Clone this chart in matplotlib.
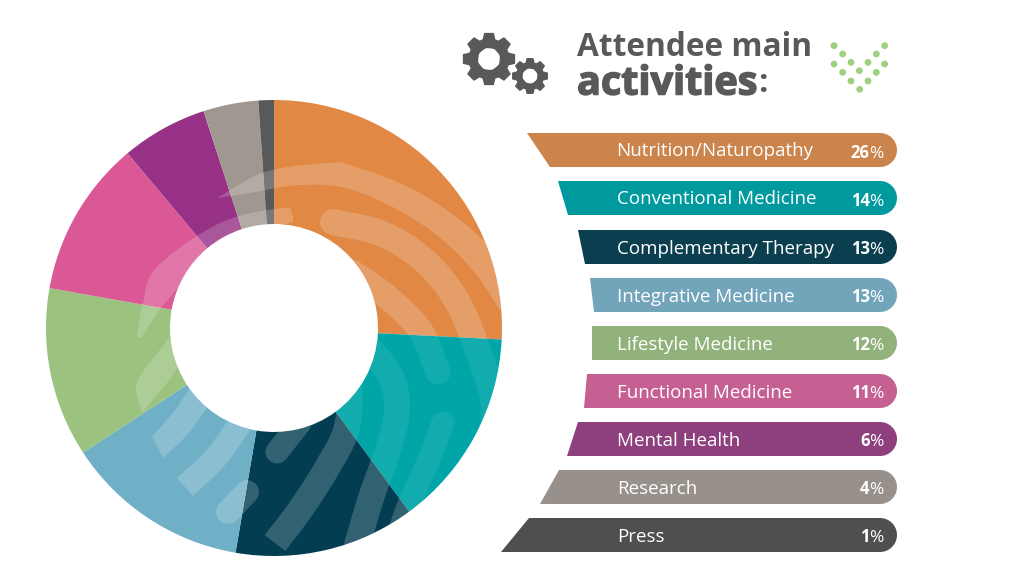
import numpy as np
import matplotlib
matplotlib.use("Agg")
import matplotlib.pyplot as plt
import matplotlib.patheffects as pe
from matplotlib.patches import Wedge, PathPatch, Polygon, Circle
from matplotlib.path import Path

# ---- data ----
categories = ["Nutrition/Naturopathy", "Conventional Medicine", "Complementary Therapy",
              "Integrative Medicine", "Lifestyle Medicine", "Functional Medicine",
              "Mental Health", "Research", "Press"]
values = [26, 14, 13, 13, 12, 11, 6, 4, 1]              # printed percentages
slice_shares = [25.8, 14.1, 12.8, 13.1, 12.0, 11.1, 6.1, 3.9, 1.1]  # as read from the ring
title_line1 = "Attendee main"
title_line2 = "activities"

# ---- style ----
wedge_colors = ["#e08844", "#00a5a8", "#033d52", "#6fb0c6", "#9bc27e",
                "#da5895", "#963185", "#a09890", "#58595b"]
bar_colors = ["#cb844b", "#009a9e", "#0b3f50", "#72a4ba", "#92b27b",
              "#c65f92", "#8e3f7e", "#98918b", "#4f4f51"]
FONT = "Open Sans"
GREY = "#58595b"
W, H = 1024, 574
CX, CY, R_OUT, R_IN = 274, 328, 228, 104

fig = plt.figure(figsize=(W / 100, H / 100), dpi=100)
ax = fig.add_axes([0, 0, 1, 1])


def Y(y):
    return H - y


def P(pts):
    return [(x, Y(y)) for x, y in pts]


def smooth(pts, n=14):
    p = np.array(pts, float)
    p = np.vstack([2 * p[0] - p[1], p, 2 * p[-1] - p[-2]])
    out = []
    for i in range(1, len(p) - 2):
        for t in np.linspace(0, 1, n, endpoint=False):
            a, b, c, d = p[i - 1], p[i], p[i + 1], p[i + 2]
            out.append(0.5 * (2 * b + (c - a) * t + (2 * a - 5 * b + 4 * c - d) * t ** 2
                              + (3 * b - a - 3 * c + d) * t ** 3))
    out.append(p[-2])
    return np.array(out)


# ---- donut ----
wedges, _ = ax.pie(slice_shares, colors=wedge_colors, startangle=90, counterclock=False,
                   radius=R_OUT, center=(CX, Y(CY)),
                   wedgeprops=dict(width=R_OUT - R_IN, linewidth=0))
ax.set_xlim(0, W)
ax.set_ylim(0, H)
ax.set_aspect("auto")
ax.axis("off")

teal = wedges[1]
clip_teal = Wedge((CX, Y(CY)), R_OUT, teal.theta1, teal.theta2, width=R_OUT - R_IN,
                  transform=ax.transData)
clip_rest = Wedge((CX, Y(CY)), R_OUT, teal.theta2, teal.theta1 + 360, width=R_OUT - R_IN,
                  transform=ax.transData)
regions = [(clip_rest, 0.19), (clip_teal, 0.08)]


def stroke(pts, width, cap="round"):
    s = smooth(P(pts))
    for clip, alpha in regions:
        line, = ax.plot(s[:, 0], s[:, 1], color="white", alpha=alpha, lw=width * 0.72,
                        solid_capstyle=cap, solid_joinstyle="round", zorder=3)
        line.set_clip_path(clip)


def blob(upper, lower):
    poly = np.vstack([smooth(P(upper)), smooth(P(lower))[::-1]])
    for clip, alpha in regions:
        patch = Polygon(poly, closed=True, facecolor="white", alpha=alpha, lw=0, zorder=3)
        ax.add_patch(patch)
        patch.set_clip_path(clip)


# swirl decoration
blob([(217, 198), (265, 172), (327, 163), (353, 166), (420, 193), (483, 240), (525, 300)],
     [(217, 198), (250, 193), (300, 185), (353, 190), (420, 223), (470, 267), (505, 318)])
stroke([(333, 222), (380, 233), (420, 257), (450, 290), (471, 332), (494, 405), (485, 445), (455, 495)], 26)
stroke([(352, 272), (385, 295), (420, 330), (438, 372)], 25)
stroke([(362, 340), (390, 375), (397, 410), (388, 450), (372, 495), (357, 545)], 26)
stroke([(350, 375), (347, 427), (327, 468), (300, 510), (275, 543)], 26, cap="butt")
stroke([(300, 423), (277, 452)], 23)
stroke([(443, 423), (430, 457), (408, 507), (400, 530)], 23)
blob([(190, 388), (175, 410), (152, 437)], [(207, 408), (187, 435), (163, 458)])
blob([(227, 422), (205, 452), (177, 478)], [(250, 430), (225, 465), (193, 496)])
stroke([(247, 492), (228, 512)], 24)
blob([(293, 215), (283, 208), (220, 223), (157, 267), (143, 303), (137, 337)],
     [(293, 222), (245, 235), (205, 262), (165, 303), (143, 335), (137, 337)])
blob([(172, 335), (162, 347), (137, 383), (142, 413)], [(172, 335), (177, 367), (142, 413)])

# ---- labelled bars ----
bar_right = 897
bar_tops = [133, 181, 230, 278, 326, 374, 422, 470, 518]
bar_h = 34
left_top = [527, 558, 578, 590, 592, 587, 578, 559, 529]
left_bot = [550, 568, 585, 594, 592, 584, 567, 540, 501]
label_x = [616, 617, 617, 617, 617, 617, 617, 617, 617]
fig.canvas.draw()
rend = fig.canvas.get_renderer()
for name, val, col, top, lt, lb, lx in zip(categories, values, bar_colors, bar_tops,
                                           left_top, left_bot, label_x):
    r = bar_h / 2
    cy = top + r
    theta = np.linspace(90, -90, 30)
    arc = [(bar_right - r + r * np.cos(np.radians(a)), cy - r * np.sin(np.radians(a))) for a in theta]
    ax.add_patch(Polygon(P([(lt, top)] + arc + [(lb, top + bar_h)]), closed=True,
                         facecolor=col, lw=0, zorder=4))
    ax.text(lx, Y(top + 23.5), name, color="white", family=FONT, fontsize=13.5,
            va="baseline", ha="left", zorder=5)
    pct = ax.text(884, Y(top + 24.5), "%", color="white", family=FONT, fontsize=12.5,
                  va="baseline", ha="right", zorder=5)
    w = pct.get_window_extent(rend).width
    ax.text(884 - w, Y(top + 24.5), str(val), color="white", family=FONT, fontsize=12,
            fontweight="bold", va="baseline", ha="right", zorder=5)

# ---- title ----
ax.text(577, Y(48), title_line1, color=GREY, family=FONT, fontsize=22.8, fontweight="bold",
        va="center", ha="left")
t2 = ax.text(577, Y(84), title_line2, color=GREY, family=FONT, fontsize=28.5, fontweight="bold",
             va="center", ha="left",
             path_effects=[pe.withStroke(linewidth=1.1, foreground=GREY)])
bb = t2.get_window_extent(rend)
ax.text(bb.x1 + 1, Y(84), ":", color=GREY, family=FONT, fontsize=24, fontweight="bold",
        va="center", ha="left")


# ---- gears ----
def gear(cx, cy, r_out, r_root, r_hole, teeth=8, start=0.0):
    pts = []
    step = 2 * np.pi / teeth
    for i in range(teeth):
        a = start + i * step
        for da, rad in [(-0.30, r_root), (-0.17, r_out), (0.17, r_out), (0.30, r_root)]:
            pts.append((cx + rad * np.cos(a + da * step / 0.8),
                        Y(cy) + rad * np.sin(a + da * step / 0.8)))
    outer = Path(pts + [pts[0]], closed=True)
    inner = Path.circle((cx, Y(cy)), r_hole)
    inner = Path(inner.vertices[::-1], inner.codes)
    ax.add_patch(PathPatch(Path.make_compound_path(outer, inner), facecolor=GREY,
                           edgecolor=GREY, lw=1.0, joinstyle="round"))


gear(489, 59, 25.8, 20, 11.5, start=np.pi / 2)
gear(530, 76, 17.5, 13.5, 8, start=np.pi / 2)

# ---- dots ----
dots = [(1152, 77), (1304, 77), (1178, 102), (1279, 102), (1152, 132), (1203, 127),
        (1254, 127), (1304, 132), (1178, 157), (1228, 152), (1279, 157), (1203, 183),
        (1254, 183), (1229, 208)]
for zx, zy in dots:
    ax.add_patch(Circle((450 + zx / 3, Y(20 + zy / 3)), 3.4, facecolor="#9dd17f", lw=0))

fig.savefig("out.png", dpi=100, facecolor="white")
